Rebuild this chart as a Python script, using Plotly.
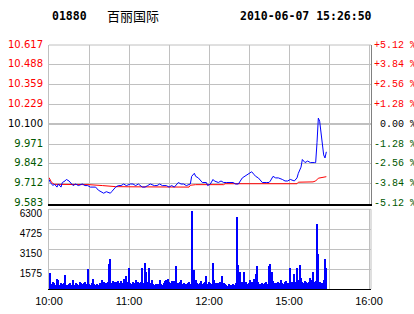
import plotly.graph_objects as go

# ---------------- data ----------------
stock_code = "01880"
stock_name = "百丽国际"
timestamp = "2010-06-07 15:26:50"
prev_close = 10.100

price_ticks = [9.583, 9.712, 9.842, 9.971, 10.100, 10.229, 10.359, 10.488, 10.617]
price_labels = ["9.583", "9.712", "9.842", "9.971", "10.100", "10.229", "10.359", "10.488", "10.617"]
pct_labels = ["-5.12 %", "-3.84 %", "-2.56 %", "-1.28 %", "\u00a00.00 %", "+1.28 %", "+2.56 %", "+3.84 %", "+5.12 %"]
vol_ticks = [1575, 3150, 4725, 6300]
vol_labels = ["1575", "3150", "4725", "6300"]
# trading minutes since 10:00 (lunch break removed)
time_tickvals = [0, 30, 60, 90, 120, 150, 180, 210, 240]
time_ticktext = ["10:00", "", "11:00", "", "12:00", "", "15:00", "", "16:00"]

price_min = [0, 1, 3, 4, 6, 7, 9, 10, 12, 13, 15, 16, 18, 20, 22, 25, 27, 29, 31, 33,
             35, 37, 39, 41, 43, 46, 47, 49, 50, 52, 54, 56, 58, 61, 63, 65, 67, 70, 72, 74,
             76, 79, 81, 83, 85, 88, 90, 92, 94, 97, 99, 101, 103, 106, 107, 109, 110, 112, 113, 115,
             118, 119, 121, 123, 124, 127, 129, 131, 133, 136, 138, 140, 142, 145, 147, 149, 151, 152, 154, 155,
             157, 159, 160, 163, 165, 166, 168, 170, 172, 175, 177, 179, 181, 184, 186, 187, 189, 190, 192, 194,
             196, 199, 200, 201, 202, 203, 204, 205, 206, 207, 208]
prices = [9.74, 9.72, 9.70, 9.71, 9.69, 9.71, 9.69, 9.72, 9.73, 9.74, 9.73, 9.72, 9.70, 9.71, 9.70, 9.71, 9.70, 9.70, 9.69, 9.69,
          9.69, 9.67, 9.66, 9.65, 9.66, 9.65, 9.66, 9.68, 9.69, 9.70, 9.70, 9.71, 9.70, 9.71, 9.71, 9.70, 9.71, 9.69, 9.69, 9.70,
          9.71, 9.70, 9.70, 9.71, 9.70, 9.70, 9.69, 9.70, 9.69, 9.72, 9.71, 9.71, 9.70, 9.71, 9.76, 9.78, 9.76, 9.75, 9.74, 9.72,
          9.72, 9.70, 9.71, 9.74, 9.73, 9.72, 9.73, 9.72, 9.72, 9.72, 9.72, 9.71, 9.71, 9.75, 9.76, 9.77, 9.78, 9.79, 9.77, 9.76,
          9.75, 9.73, 9.72, 9.72, 9.72, 9.73, 9.76, 9.75, 9.75, 9.74, 9.73, 9.73, 9.74, 9.73, 9.75, 9.78, 9.82, 9.87, 9.85, 9.86,
          9.85, 9.85, 9.85, 9.98, 10.14, 10.12, 10.04, 10.00, 9.90, 9.88, 9.92]

avg_min = [0, 2, 4, 18, 30, 40, 50, 60, 94, 105, 106, 110, 131, 132, 186, 187, 198, 200, 202, 205, 208]
avg_price = [9.752, 9.72, 9.708, 9.708, 9.706, 9.700, 9.693, 9.692, 9.690, 9.690, 9.702, 9.706, 9.706, 9.712,
             9.712, 9.722, 9.724, 9.730, 9.748, 9.752, 9.758]

volumes = [420, 1240, 380, 560, 450, 320, 740, 660, 300, 420,
           350, 480, 1056, 300, 260, 380, 420, 330, 660, 290,
           450, 380, 300, 520, 420, 350, 475, 520, 400, 1530,
           380, 300, 420, 790, 350, 300, 400, 280, 420, 350,
           660, 500, 380, 450, 520, 1930, 2320, 450, 600, 500,
           560, 400, 620, 450, 580, 420, 790, 450, 980, 520,
           1610, 420, 380, 500, 450, 660, 380, 560, 420, 500,
           1660, 450, 2000, 1320, 560, 1610, 420, 660, 350, 300,
           400, 280, 350, 660, 380, 300, 420, 600, 660, 790,
           500, 420, 580, 450, 600, 1770, 480, 420, 560, 660,
           350, 420, 300, 380, 450, 560, 400, 6125, 500, 1450,
           660, 420, 380, 450, 600, 350, 420, 500, 980, 400,
           560, 450, 380, 2000, 660, 420, 350, 450, 500, 380,
           980, 420, 350, 300, 250, 380, 300, 280, 350, 300,
           420, 5650, 1850, 1320, 450, 500, 1345, 420, 560, 380,
           450, 660, 500, 420, 760, 1135, 1770, 520, 400, 380,
           450, 380, 420, 500, 350, 1770, 1930, 1320, 600, 450,
           420, 380, 500, 450, 660, 420, 380, 500, 620, 450,
           400, 1610, 520, 450, 1190, 560, 1610, 700, 1850, 820,
           500, 420, 600, 560, 450, 520, 820, 660, 1320, 500,
           600, 5120, 2750, 520, 450, 420, 660, 2320, 1640]
vol_min = list(range(len(volumes)))

# ---------------- styling ----------------
RED = "#ff0000"
GREEN = "#005800"
GRID = "#c0c0c0"


def colored(label, value):
    if abs(value - prev_close) < 1e-9:
        c = "#000000"
    elif value > prev_close:
        c = RED
    else:
        c = GREEN
    return f'<span style="color:{c}">{label}</span>'


left_text = [colored(l, v) for l, v in zip(price_labels, price_ticks)]
right_text = [colored(l, v) for l, v in zip(pct_labels, price_ticks)]

fig = go.Figure()
fig.add_trace(go.Scatter(x=avg_min, y=avg_price, mode="lines", line=dict(color=RED, width=1),
                         xaxis="x", yaxis="y", hoverinfo="skip"))
fig.add_trace(go.Scatter(x=price_min, y=prices, mode="lines", line=dict(color="#0000ff", width=1),
                         xaxis="x", yaxis="y", hoverinfo="skip"))
fig.add_trace(go.Scatter(x=[None], y=[None], xaxis="x", yaxis="y3", hoverinfo="skip"))
fig.add_trace(go.Bar(x=vol_min, y=volumes, width=0.8, marker=dict(color="#0000ff", line=dict(width=0)),
                     xaxis="x2", yaxis="y2", hoverinfo="skip"))

x_range = [0, 241.5]
fig.update_layout(
    width=414, height=314,
    margin=dict(l=49, r=43, t=45, b=25, autoexpand=False),
    paper_bgcolor="white", plot_bgcolor="white",
    showlegend=False, bargap=0,
    xaxis=dict(domain=[0, 1], anchor="y", range=x_range, tickmode="array", tickvals=time_tickvals,
               showticklabels=False, showgrid=True, gridcolor=GRID, gridwidth=1, zeroline=False,
               showline=True, linecolor="#000000", linewidth=1.5, ticks="", fixedrange=True,
               automargin=False),
    yaxis=dict(domain=[0.3504, 1], anchor="x", range=[price_ticks[0], price_ticks[-1]], tickmode="array",
               tickvals=price_ticks, ticktext=left_text, showgrid=True, gridcolor=GRID, zeroline=False,
               showline=True, linecolor=GRID, linewidth=1, ticks="", ticklabelstandoff=3,
               ticklabelshift=-1,
               tickfont=dict(family="DejaVu Sans", size=10), fixedrange=True, automargin=False),
    yaxis3=dict(overlaying="y", side="right", anchor="x", range=[price_ticks[0], price_ticks[-1]],
                tickmode="array", tickvals=price_ticks, ticktext=right_text, showgrid=False, zeroline=False,
                showline=True, linecolor="#808080", linewidth=1, ticks="", ticklabelstandoff=0,
                ticklabelshift=-1,
                tickfont=dict(family="Liberation Mono, Courier New, monospace", size=10), fixedrange=True,
                automargin=False),
    xaxis2=dict(domain=[0, 1], anchor="y2", range=x_range, tickmode="array", tickvals=time_tickvals,
                ticktext=time_ticktext, showgrid=True, gridcolor=GRID, zeroline=False,
                showline=True, linecolor="#000000", linewidth=1, ticks="", ticklabelstandoff=2,
                tickfont=dict(family="Liberation Sans, Arial", size=11, color="#000000"), fixedrange=True,
                automargin=False),
    yaxis2=dict(domain=[0, 0.3266], anchor="x2", range=[0, 6300], tickmode="array", tickvals=vol_ticks,
                ticktext=vol_labels, showgrid=True, gridcolor=GRID, zeroline=False,
                showline=True, linecolor=GRID, linewidth=1, ticks="", ticklabelstandoff=4,
                ticklabelshift=4,
                tickfont=dict(family="Liberation Sans, Arial", size=10, color="#000000"), fixedrange=True,
                automargin=False),
)

# prev close reference line and frame edges
fig.add_shape(type="line", xref="x domain", yref="y", x0=0, x1=1, y0=prev_close, y1=prev_close,
              line=dict(color="#000000", width=1), layer="below")
fig.add_shape(type="line", xref="x domain", yref="y domain", x0=0, x1=1, y0=1, y1=1,
              line=dict(color=GRID, width=1), layer="below")
fig.add_shape(type="line", xref="x2 domain", yref="y2 domain", x0=0, x1=1, y0=1, y1=1,
              line=dict(color=GRID, width=1), layer="below")
fig.add_shape(type="line", xref="x2 domain", yref="y2 domain", x0=1, x1=1, y0=0, y1=1,
              line=dict(color=GRID, width=1), layer="below")

# header
hdr_y = 1.119
fig.add_annotation(text=f"<b>{stock_code}</b>", xref="paper", yref="paper", x=0.003, y=hdr_y,
                   xanchor="left", yanchor="middle", showarrow=False,
                   font=dict(family="DejaVu Sans Mono", size=11.5, color="#000000"))
fig.add_annotation(text=stock_name, xref="paper", yref="paper", x=0.174, y=hdr_y,
                   xanchor="left", yanchor="middle", showarrow=False,
                   font=dict(family="Noto Sans CJK SC", size=13, color="#000000"))
fig.add_annotation(text=f"<b>{timestamp}</b>", xref="paper", yref="paper", x=0.587, y=hdr_y,
                   xanchor="left", yanchor="middle", showarrow=False,
                   font=dict(family="DejaVu Sans Mono", size=11.5, color="#000000"))

fig.write_html("out.html")
